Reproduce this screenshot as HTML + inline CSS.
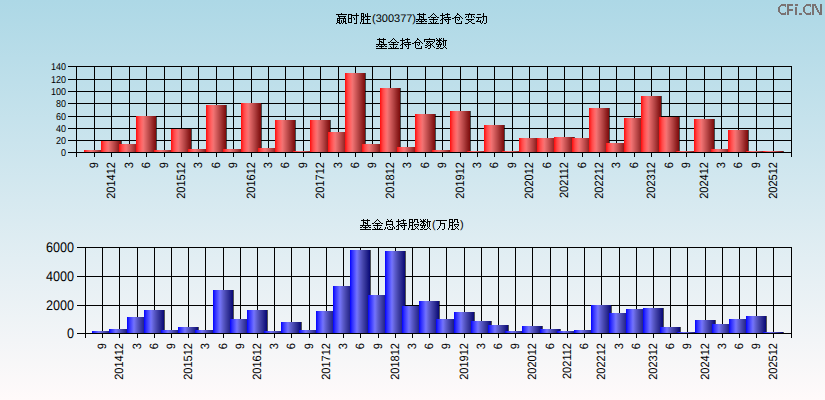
<!DOCTYPE html><html><head><meta charset="utf-8"><style>html,body{margin:0;padding:0;width:825px;height:400px;overflow:hidden}svg{display:block}</style></head><body><svg width="825" height="400" viewBox="0 0 825 400" font-family="'Liberation Sans', sans-serif" text-rendering="geometricPrecision"><defs><linearGradient id="bg" x1="0" y1="0" x2="0" y2="1"><stop offset="0" stop-color="#ADD8E6"/><stop offset="1" stop-color="#FFFAFA"/></linearGradient><linearGradient id="rb" x1="0" y1="0" x2="1" y2="0"><stop offset="0" stop-color="#FF0A0A"/><stop offset="0.05" stop-color="#FF2020"/><stop offset="0.15" stop-color="#FF4848"/><stop offset="0.3" stop-color="#FF6A6A"/><stop offset="0.38" stop-color="#F07272"/><stop offset="0.5" stop-color="#D86060"/><stop offset="0.7" stop-color="#B04040"/><stop offset="0.85" stop-color="#942424"/><stop offset="1" stop-color="#7C0A0A"/></linearGradient><linearGradient id="bb" x1="0" y1="0" x2="1" y2="0"><stop offset="0" stop-color="#0000FF"/><stop offset="0.1" stop-color="#2A2AFF"/><stop offset="0.2" stop-color="#4848FF"/><stop offset="0.32" stop-color="#6C6CFF"/><stop offset="0.38" stop-color="#7070F0"/><stop offset="0.5" stop-color="#5C5CCC"/><stop offset="0.65" stop-color="#4444AA"/><stop offset="0.8" stop-color="#2C2C92"/><stop offset="1" stop-color="#080876"/></linearGradient></defs><rect x="0" y="0" width="825" height="400" fill="url(#bg)"/><path fill="#7A7272" d="M781 4h5v2h-5zM780 5h2v1h-2zM779 6h2v1h-2zM778 7h2v5h-2zM779 12h2v1h-2zM780 13h2v1h-2zM781 13h5v2h-5zM785 6h1v1h-1zM785 12h1v1h-1zM787 4h2v11h-2zM787 4h6v2h-6zM787 9h6v2h-6zM795 4h3v2h-3zM795 7h2v8h-2zM799 13h3v2h-3zM806 4h5v2h-5zM805 5h2v1h-2zM804 6h2v1h-2zM803 7h2v5h-2zM804 12h2v1h-2zM805 13h2v1h-2zM806 13h5v2h-5zM810 6h1v1h-1zM810 12h1v1h-1zM812 4h2v11h-2zM820 4h2v11h-2zM814 4h2v1h-2zM814 5h2v1h-2zM815 6h2v1h-2zM815 7h2v1h-2zM816 8h2v1h-2zM816 9h2v1h-2zM817 10h2v1h-2zM817 11h2v1h-2zM818 12h2v1h-2zM819 13h2v1h-2zM819 14h2v1h-2z"/><path fill="#000" d="M341 13h1v1h-1zM356 13h1v1h-1zM361 13h3v1h-3zM367 13h1v1h-1zM336 14h11v1h-11zM348 14h4v1h-4zM356 14h1v1h-1zM361 14h1v1h-1zM363 14h1v1h-1zM365 14h1v1h-1zM367 14h1v1h-1zM338 15h1v1h-1zM348 15h1v1h-1zM351 15h8v1h-8zM361 15h1v1h-1zM363 15h1v1h-1zM365 15h1v1h-1zM367 15h1v1h-1zM338 16h8v1h-8zM348 16h1v1h-1zM351 16h1v1h-1zM356 16h1v1h-1zM361 16h3v1h-3zM365 16h6v1h-6zM339 17h1v1h-1zM344 17h1v1h-1zM348 17h1v1h-1zM351 17h1v1h-1zM353 17h1v1h-1zM356 17h1v1h-1zM361 17h1v1h-1zM363 17h2v1h-2zM367 17h1v1h-1zM337 18h9v1h-9zM348 18h4v1h-4zM354 18h1v1h-1zM356 18h1v1h-1zM361 18h1v1h-1zM363 18h1v1h-1zM367 18h1v1h-1zM337 19h1v1h-1zM339 19h1v1h-1zM343 19h1v1h-1zM345 19h1v1h-1zM348 19h1v1h-1zM351 19h1v1h-1zM354 19h1v1h-1zM356 19h1v1h-1zM361 19h3v1h-3zM365 19h5v1h-5zM337 20h3v1h-3zM341 20h1v1h-1zM343 20h1v1h-1zM345 20h1v1h-1zM348 20h1v1h-1zM351 20h1v1h-1zM356 20h1v1h-1zM361 20h1v1h-1zM363 20h1v1h-1zM367 20h1v1h-1zM337 21h1v1h-1zM339 21h1v1h-1zM341 21h1v1h-1zM343 21h3v1h-3zM348 21h1v1h-1zM351 21h1v1h-1zM356 21h1v1h-1zM361 21h1v1h-1zM363 21h1v1h-1zM367 21h1v1h-1zM337 22h3v1h-3zM341 22h1v1h-1zM343 22h1v1h-1zM345 22h1v1h-1zM348 22h4v1h-4zM356 22h1v1h-1zM360 22h1v1h-1zM363 22h1v1h-1zM367 22h1v1h-1zM336 23h1v1h-1zM339 23h2v1h-2zM342 23h1v1h-1zM345 23h2v1h-2zM354 23h3v1h-3zM360 23h1v1h-1zM362 23h9v1h-9zM419 13h1v1h-1zM423 13h1v1h-1zM433 13h1v1h-1zM442 13h1v1h-1zM447 13h1v1h-1zM457 13h1v1h-1zM469 13h1v1h-1zM483 13h1v1h-1zM417 14h9v1h-9zM432 14h1v1h-1zM434 14h1v1h-1zM442 14h1v1h-1zM445 14h5v1h-5zM457 14h2v1h-2zM465 14h10v1h-10zM477 14h4v1h-4zM483 14h1v1h-1zM419 15h1v1h-1zM423 15h1v1h-1zM431 15h1v1h-1zM435 15h1v1h-1zM440 15h5v1h-5zM447 15h1v1h-1zM456 15h1v1h-1zM459 15h1v1h-1zM468 15h1v1h-1zM471 15h1v1h-1zM483 15h1v1h-1zM419 16h3v1h-3zM423 16h1v1h-1zM430 16h1v1h-1zM436 16h1v1h-1zM442 16h1v1h-1zM447 16h1v1h-1zM455 16h1v1h-1zM460 16h1v1h-1zM466 16h1v1h-1zM468 16h1v1h-1zM471 16h1v1h-1zM473 16h1v1h-1zM482 16h5v1h-5zM419 17h1v1h-1zM421 17h3v1h-3zM428 17h2v1h-2zM431 17h5v1h-5zM437 17h2v1h-2zM442 17h1v1h-1zM444 17h7v1h-7zM454 17h6v1h-6zM461 17h1v1h-1zM465 17h1v1h-1zM468 17h1v1h-1zM471 17h1v1h-1zM474 17h1v1h-1zM476 17h6v1h-6zM483 17h1v1h-1zM486 17h1v1h-1zM419 18h1v1h-1zM423 18h1v1h-1zM433 18h1v1h-1zM442 18h2v1h-2zM448 18h1v1h-1zM452 18h2v1h-2zM455 18h1v1h-1zM459 18h1v1h-1zM462 18h1v1h-1zM478 18h1v1h-1zM483 18h1v1h-1zM486 18h1v1h-1zM416 19h11v1h-11zM429 19h9v1h-9zM441 19h2v1h-2zM444 19h7v1h-7zM455 19h1v1h-1zM457 19h1v1h-1zM459 19h1v1h-1zM466 19h8v1h-8zM478 19h1v1h-1zM483 19h1v1h-1zM486 19h1v1h-1zM418 20h1v1h-1zM421 20h1v1h-1zM424 20h1v1h-1zM433 20h1v1h-1zM440 20h1v1h-1zM442 20h1v1h-1zM445 20h1v1h-1zM448 20h1v1h-1zM455 20h1v1h-1zM458 20h1v1h-1zM468 20h1v1h-1zM471 20h1v1h-1zM477 20h1v1h-1zM480 20h1v1h-1zM483 20h1v1h-1zM486 20h1v1h-1zM416 21h2v1h-2zM419 21h5v1h-5zM425 21h2v1h-2zM430 21h1v1h-1zM433 21h1v1h-1zM436 21h1v1h-1zM442 21h1v1h-1zM446 21h1v1h-1zM448 21h1v1h-1zM455 21h1v1h-1zM461 21h1v1h-1zM469 21h2v1h-2zM476 21h5v1h-5zM482 21h1v1h-1zM486 21h1v1h-1zM421 22h1v1h-1zM431 22h1v1h-1zM433 22h1v1h-1zM435 22h1v1h-1zM442 22h1v1h-1zM448 22h1v1h-1zM455 22h1v1h-1zM461 22h1v1h-1zM468 22h1v1h-1zM471 22h1v1h-1zM480 22h1v1h-1zM482 22h1v1h-1zM486 22h1v1h-1zM416 23h11v1h-11zM428 23h11v1h-11zM440 23h3v1h-3zM447 23h2v1h-2zM456 23h6v1h-6zM465 23h3v1h-3zM472 23h3v1h-3zM481 23h1v1h-1zM484 23h2v1h-2z"/><text x="372" y="22" font-size="11" fill="#000">(300377)</text><path fill="#000" d="M379 38h1v1h-1zM383 38h1v1h-1zM393 38h1v1h-1zM402 38h1v1h-1zM407 38h1v1h-1zM417 38h1v1h-1zM429 38h1v1h-1zM436 38h1v1h-1zM439 38h1v1h-1zM441 38h1v1h-1zM443 38h1v1h-1zM377 39h9v1h-9zM392 39h1v1h-1zM394 39h1v1h-1zM402 39h1v1h-1zM405 39h5v1h-5zM417 39h2v1h-2zM424 39h11v1h-11zM437 39h1v1h-1zM439 39h2v1h-2zM443 39h1v1h-1zM379 40h1v1h-1zM383 40h1v1h-1zM391 40h1v1h-1zM395 40h1v1h-1zM400 40h5v1h-5zM407 40h1v1h-1zM416 40h1v1h-1zM419 40h1v1h-1zM424 40h1v1h-1zM434 40h1v1h-1zM436 40h6v1h-6zM443 40h4v1h-4zM379 41h3v1h-3zM383 41h1v1h-1zM390 41h1v1h-1zM396 41h1v1h-1zM402 41h1v1h-1zM407 41h1v1h-1zM415 41h1v1h-1zM420 41h1v1h-1zM424 41h1v1h-1zM426 41h7v1h-7zM434 41h1v1h-1zM438 41h2v1h-2zM442 41h2v1h-2zM445 41h1v1h-1zM379 42h1v1h-1zM381 42h3v1h-3zM388 42h2v1h-2zM391 42h5v1h-5zM397 42h2v1h-2zM402 42h1v1h-1zM404 42h7v1h-7zM414 42h6v1h-6zM421 42h1v1h-1zM427 42h1v1h-1zM429 42h1v1h-1zM433 42h1v1h-1zM437 42h1v1h-1zM439 42h2v1h-2zM443 42h1v1h-1zM445 42h1v1h-1zM379 43h1v1h-1zM383 43h1v1h-1zM393 43h1v1h-1zM402 43h2v1h-2zM408 43h1v1h-1zM412 43h2v1h-2zM415 43h1v1h-1zM419 43h1v1h-1zM422 43h1v1h-1zM426 43h1v1h-1zM428 43h1v1h-1zM430 43h1v1h-1zM432 43h1v1h-1zM436 43h1v1h-1zM439 43h1v1h-1zM441 43h1v1h-1zM443 43h1v1h-1zM445 43h1v1h-1zM376 44h11v1h-11zM389 44h9v1h-9zM401 44h2v1h-2zM404 44h7v1h-7zM415 44h1v1h-1zM417 44h1v1h-1zM419 44h1v1h-1zM427 44h1v1h-1zM430 44h2v1h-2zM436 44h6v1h-6zM443 44h1v1h-1zM445 44h1v1h-1zM378 45h1v1h-1zM381 45h1v1h-1zM384 45h1v1h-1zM393 45h1v1h-1zM400 45h1v1h-1zM402 45h1v1h-1zM405 45h1v1h-1zM408 45h1v1h-1zM415 45h1v1h-1zM418 45h1v1h-1zM425 45h2v1h-2zM428 45h3v1h-3zM432 45h1v1h-1zM438 45h1v1h-1zM440 45h1v1h-1zM443 45h1v1h-1zM445 45h1v1h-1zM376 46h2v1h-2zM379 46h5v1h-5zM385 46h2v1h-2zM390 46h1v1h-1zM393 46h1v1h-1zM396 46h1v1h-1zM402 46h1v1h-1zM406 46h1v1h-1zM408 46h1v1h-1zM415 46h1v1h-1zM421 46h1v1h-1zM427 46h1v1h-1zM430 46h1v1h-1zM433 46h1v1h-1zM437 46h2v1h-2zM440 46h1v1h-1zM444 46h1v1h-1zM381 47h1v1h-1zM391 47h1v1h-1zM393 47h1v1h-1zM395 47h1v1h-1zM402 47h1v1h-1zM408 47h1v1h-1zM415 47h1v1h-1zM421 47h1v1h-1zM425 47h2v1h-2zM430 47h1v1h-1zM434 47h1v1h-1zM439 47h1v1h-1zM443 47h1v1h-1zM445 47h1v1h-1zM376 48h11v1h-11zM388 48h11v1h-11zM400 48h3v1h-3zM407 48h2v1h-2zM416 48h6v1h-6zM428 48h2v1h-2zM436 48h3v1h-3zM440 48h3v1h-3zM446 48h1v1h-1z"/><path fill="#000" d="M363 219h1v1h-1zM367 219h1v1h-1zM377 219h1v1h-1zM387 219h1v1h-1zM391 219h1v1h-1zM398 219h1v1h-1zM403 219h1v1h-1zM409 219h4v1h-4zM414 219h4v1h-4zM420 219h1v1h-1zM423 219h1v1h-1zM425 219h1v1h-1zM427 219h1v1h-1zM361 220h9v1h-9zM376 220h1v1h-1zM378 220h1v1h-1zM388 220h1v1h-1zM390 220h1v1h-1zM398 220h1v1h-1zM401 220h5v1h-5zM409 220h1v1h-1zM412 220h1v1h-1zM414 220h1v1h-1zM417 220h1v1h-1zM421 220h1v1h-1zM423 220h2v1h-2zM427 220h1v1h-1zM363 221h1v1h-1zM367 221h1v1h-1zM375 221h1v1h-1zM379 221h1v1h-1zM386 221h7v1h-7zM396 221h5v1h-5zM403 221h1v1h-1zM409 221h1v1h-1zM412 221h1v1h-1zM414 221h1v1h-1zM417 221h1v1h-1zM420 221h6v1h-6zM427 221h4v1h-4zM363 222h3v1h-3zM367 222h1v1h-1zM374 222h1v1h-1zM380 222h1v1h-1zM386 222h1v1h-1zM392 222h1v1h-1zM398 222h1v1h-1zM403 222h1v1h-1zM409 222h5v1h-5zM417 222h2v1h-2zM422 222h2v1h-2zM426 222h2v1h-2zM429 222h1v1h-1zM363 223h1v1h-1zM365 223h3v1h-3zM372 223h2v1h-2zM375 223h5v1h-5zM381 223h2v1h-2zM386 223h1v1h-1zM392 223h1v1h-1zM398 223h1v1h-1zM400 223h7v1h-7zM409 223h1v1h-1zM412 223h1v1h-1zM421 223h1v1h-1zM423 223h2v1h-2zM427 223h1v1h-1zM429 223h1v1h-1zM363 224h1v1h-1zM367 224h1v1h-1zM377 224h1v1h-1zM386 224h7v1h-7zM398 224h2v1h-2zM404 224h1v1h-1zM409 224h1v1h-1zM412 224h1v1h-1zM414 224h5v1h-5zM420 224h1v1h-1zM423 224h1v1h-1zM425 224h1v1h-1zM427 224h1v1h-1zM429 224h1v1h-1zM360 225h11v1h-11zM373 225h9v1h-9zM386 225h1v1h-1zM392 225h1v1h-1zM397 225h2v1h-2zM400 225h7v1h-7zM409 225h4v1h-4zM414 225h1v1h-1zM418 225h1v1h-1zM420 225h6v1h-6zM427 225h1v1h-1zM429 225h1v1h-1zM362 226h1v1h-1zM365 226h1v1h-1zM368 226h1v1h-1zM377 226h1v1h-1zM389 226h1v1h-1zM393 226h1v1h-1zM396 226h1v1h-1zM398 226h1v1h-1zM401 226h1v1h-1zM404 226h1v1h-1zM409 226h1v1h-1zM412 226h1v1h-1zM415 226h1v1h-1zM417 226h1v1h-1zM422 226h1v1h-1zM424 226h1v1h-1zM427 226h1v1h-1zM429 226h1v1h-1zM360 227h2v1h-2zM363 227h5v1h-5zM369 227h2v1h-2zM374 227h1v1h-1zM377 227h1v1h-1zM380 227h1v1h-1zM385 227h1v1h-1zM387 227h1v1h-1zM390 227h1v1h-1zM392 227h1v1h-1zM394 227h1v1h-1zM398 227h1v1h-1zM402 227h1v1h-1zM404 227h1v1h-1zM409 227h1v1h-1zM412 227h1v1h-1zM416 227h1v1h-1zM421 227h2v1h-2zM424 227h1v1h-1zM428 227h1v1h-1zM365 228h1v1h-1zM375 228h1v1h-1zM377 228h1v1h-1zM379 228h1v1h-1zM385 228h1v1h-1zM387 228h1v1h-1zM392 228h1v1h-1zM394 228h1v1h-1zM398 228h1v1h-1zM404 228h1v1h-1zM408 228h1v1h-1zM412 228h1v1h-1zM415 228h1v1h-1zM417 228h1v1h-1zM423 228h1v1h-1zM427 228h1v1h-1zM429 228h1v1h-1zM360 229h11v1h-11zM372 229h11v1h-11zM384 229h1v1h-1zM388 229h5v1h-5zM396 229h3v1h-3zM403 229h2v1h-2zM408 229h1v1h-1zM411 229h4v1h-4zM418 229h1v1h-1zM420 229h3v1h-3zM424 229h3v1h-3zM430 229h1v1h-1zM449 219h4v1h-4zM454 219h4v1h-4zM436 220h11v1h-11zM449 220h1v1h-1zM452 220h1v1h-1zM454 220h1v1h-1zM457 220h1v1h-1zM440 221h1v1h-1zM449 221h1v1h-1zM452 221h1v1h-1zM454 221h1v1h-1zM457 221h1v1h-1zM440 222h1v1h-1zM449 222h5v1h-5zM457 222h2v1h-2zM440 223h5v1h-5zM449 223h1v1h-1zM452 223h1v1h-1zM440 224h1v1h-1zM444 224h1v1h-1zM449 224h1v1h-1zM452 224h1v1h-1zM454 224h5v1h-5zM440 225h1v1h-1zM444 225h1v1h-1zM449 225h4v1h-4zM454 225h1v1h-1zM458 225h1v1h-1zM439 226h1v1h-1zM444 226h1v1h-1zM449 226h1v1h-1zM452 226h1v1h-1zM455 226h1v1h-1zM457 226h1v1h-1zM439 227h1v1h-1zM444 227h1v1h-1zM449 227h1v1h-1zM452 227h1v1h-1zM456 227h1v1h-1zM438 228h1v1h-1zM444 228h1v1h-1zM448 228h1v1h-1zM452 228h1v1h-1zM455 228h1v1h-1zM457 228h1v1h-1zM437 229h1v1h-1zM442 229h2v1h-2zM448 229h1v1h-1zM451 229h4v1h-4zM458 229h1v1h-1z"/><text x="432" y="228" font-size="11" fill="#000">(</text><text x="460" y="228" font-size="11" fill="#000">)</text><path fill="#000" d="M68 66h724v1h-724zM68 79h724v1h-724zM68 91h724v1h-724zM68 103h724v1h-724zM68 116h724v1h-724zM68 128h724v1h-724zM68 140h724v1h-724zM68 152h724v1h-724zM76 66h1v91h-1zM791 66h1v91h-1zM94 66h1v91h-1zM111 66h1v91h-1zM129 66h1v91h-1zM146 66h1v91h-1zM164 66h1v91h-1zM181 66h1v91h-1zM198 66h1v91h-1zM216 66h1v91h-1zM233 66h1v91h-1zM251 66h1v91h-1zM268 66h1v91h-1zM285 66h1v91h-1zM303 66h1v91h-1zM320 66h1v91h-1zM338 66h1v91h-1zM355 66h1v91h-1zM372 66h1v91h-1zM390 66h1v91h-1zM407 66h1v91h-1zM425 66h1v91h-1zM442 66h1v91h-1zM460 66h1v91h-1zM477 66h1v91h-1zM494 66h1v91h-1zM512 66h1v91h-1zM529 66h1v91h-1zM547 66h1v91h-1zM564 66h1v91h-1zM582 66h1v91h-1zM599 66h1v91h-1zM616 66h1v91h-1zM634 66h1v91h-1zM651 66h1v91h-1zM669 66h1v91h-1zM686 66h1v91h-1zM704 66h1v91h-1zM721 66h1v91h-1zM738 66h1v91h-1zM756 66h1v91h-1zM773 66h1v91h-1z"/><rect x="84" y="150" width="20" height="2" fill="url(#rb)"/><rect x="104" y="150" width="1" height="2" fill="#000" fill-opacity="0.65"/><rect x="101" y="141" width="20" height="11" fill="url(#rb)"/><rect x="121" y="141" width="1" height="11" fill="#000" fill-opacity="0.65"/><rect x="119" y="144" width="20" height="8" fill="url(#rb)"/><rect x="139" y="144" width="1" height="8" fill="#000" fill-opacity="0.65"/><rect x="136" y="116" width="20" height="36" fill="url(#rb)"/><rect x="156" y="116" width="1" height="36" fill="#000" fill-opacity="0.65"/><rect x="154" y="150" width="20" height="2" fill="url(#rb)"/><rect x="174" y="150" width="1" height="2" fill="#000" fill-opacity="0.65"/><rect x="171" y="129" width="20" height="23" fill="url(#rb)"/><rect x="191" y="129" width="1" height="23" fill="#000" fill-opacity="0.65"/><rect x="188" y="149" width="20" height="3" fill="url(#rb)"/><rect x="208" y="149" width="1" height="3" fill="#000" fill-opacity="0.65"/><rect x="206" y="105" width="20" height="47" fill="url(#rb)"/><rect x="226" y="105" width="1" height="47" fill="#000" fill-opacity="0.65"/><rect x="223" y="149" width="20" height="3" fill="url(#rb)"/><rect x="243" y="149" width="1" height="3" fill="#000" fill-opacity="0.65"/><rect x="241" y="103" width="20" height="49" fill="url(#rb)"/><rect x="261" y="103" width="1" height="49" fill="#000" fill-opacity="0.65"/><rect x="258" y="148" width="20" height="4" fill="url(#rb)"/><rect x="278" y="148" width="1" height="4" fill="#000" fill-opacity="0.65"/><rect x="275" y="120" width="20" height="32" fill="url(#rb)"/><rect x="295" y="120" width="1" height="32" fill="#000" fill-opacity="0.65"/><rect x="293" y="151" width="20" height="1" fill="url(#rb)"/><rect x="313" y="151" width="1" height="1" fill="#000" fill-opacity="0.65"/><rect x="310" y="120" width="20" height="32" fill="url(#rb)"/><rect x="330" y="120" width="1" height="32" fill="#000" fill-opacity="0.65"/><rect x="328" y="132" width="20" height="20" fill="url(#rb)"/><rect x="348" y="132" width="1" height="20" fill="#000" fill-opacity="0.65"/><rect x="345" y="73" width="20" height="79" fill="url(#rb)"/><rect x="365" y="73" width="1" height="79" fill="#000" fill-opacity="0.65"/><rect x="362" y="144" width="20" height="8" fill="url(#rb)"/><rect x="382" y="144" width="1" height="8" fill="#000" fill-opacity="0.65"/><rect x="380" y="88" width="20" height="64" fill="url(#rb)"/><rect x="400" y="88" width="1" height="64" fill="#000" fill-opacity="0.65"/><rect x="397" y="147" width="20" height="5" fill="url(#rb)"/><rect x="417" y="147" width="1" height="5" fill="#000" fill-opacity="0.65"/><rect x="415" y="114" width="20" height="38" fill="url(#rb)"/><rect x="435" y="114" width="1" height="38" fill="#000" fill-opacity="0.65"/><rect x="432" y="150" width="20" height="2" fill="url(#rb)"/><rect x="452" y="150" width="1" height="2" fill="#000" fill-opacity="0.65"/><rect x="450" y="111" width="20" height="41" fill="url(#rb)"/><rect x="470" y="111" width="1" height="41" fill="#000" fill-opacity="0.65"/><rect x="467" y="151" width="20" height="1" fill="url(#rb)"/><rect x="487" y="151" width="1" height="1" fill="#000" fill-opacity="0.65"/><rect x="484" y="125" width="20" height="27" fill="url(#rb)"/><rect x="504" y="125" width="1" height="27" fill="#000" fill-opacity="0.65"/><rect x="502" y="151" width="20" height="1" fill="url(#rb)"/><rect x="522" y="151" width="1" height="1" fill="#000" fill-opacity="0.65"/><rect x="519" y="138" width="20" height="14" fill="url(#rb)"/><rect x="539" y="138" width="1" height="14" fill="#000" fill-opacity="0.65"/><rect x="537" y="138" width="20" height="14" fill="url(#rb)"/><rect x="557" y="138" width="1" height="14" fill="#000" fill-opacity="0.65"/><rect x="554" y="137" width="20" height="15" fill="url(#rb)"/><rect x="574" y="137" width="1" height="15" fill="#000" fill-opacity="0.65"/><rect x="572" y="138" width="20" height="14" fill="url(#rb)"/><rect x="592" y="138" width="1" height="14" fill="#000" fill-opacity="0.65"/><rect x="589" y="108" width="20" height="44" fill="url(#rb)"/><rect x="609" y="108" width="1" height="44" fill="#000" fill-opacity="0.65"/><rect x="606" y="143" width="20" height="9" fill="url(#rb)"/><rect x="626" y="143" width="1" height="9" fill="#000" fill-opacity="0.65"/><rect x="624" y="118" width="20" height="34" fill="url(#rb)"/><rect x="644" y="118" width="1" height="34" fill="#000" fill-opacity="0.65"/><rect x="641" y="96" width="20" height="56" fill="url(#rb)"/><rect x="661" y="96" width="1" height="56" fill="#000" fill-opacity="0.65"/><rect x="659" y="117" width="20" height="35" fill="url(#rb)"/><rect x="679" y="117" width="1" height="35" fill="#000" fill-opacity="0.65"/><rect x="676" y="151" width="20" height="1" fill="url(#rb)"/><rect x="696" y="151" width="1" height="1" fill="#000" fill-opacity="0.65"/><rect x="694" y="119" width="20" height="33" fill="url(#rb)"/><rect x="714" y="119" width="1" height="33" fill="#000" fill-opacity="0.65"/><rect x="711" y="149" width="20" height="3" fill="url(#rb)"/><rect x="731" y="149" width="1" height="3" fill="#000" fill-opacity="0.65"/><rect x="728" y="130" width="20" height="22" fill="url(#rb)"/><rect x="748" y="130" width="1" height="22" fill="#000" fill-opacity="0.65"/><rect x="746" y="151" width="20" height="1" fill="url(#rb)"/><rect x="766" y="151" width="1" height="1" fill="#000" fill-opacity="0.65"/><rect x="763" y="151" width="20" height="1" fill="url(#rb)"/><rect x="783" y="151" width="1" height="1" fill="#000" fill-opacity="0.65"/><rect x="68" y="152" width="724" height="1" fill="#000"/><text transform="translate(66,66) scale(0.9,1)" dy="0.35em" font-size="10" text-anchor="end" fill="#000">140</text><text transform="translate(66,79) scale(0.9,1)" dy="0.35em" font-size="10" text-anchor="end" fill="#000">120</text><text transform="translate(66,91) scale(0.9,1)" dy="0.35em" font-size="10" text-anchor="end" fill="#000">100</text><text transform="translate(66,103) scale(0.9,1)" dy="0.35em" font-size="10" text-anchor="end" fill="#000">80</text><text transform="translate(66,116) scale(0.9,1)" dy="0.35em" font-size="10" text-anchor="end" fill="#000">60</text><text transform="translate(66,128) scale(0.9,1)" dy="0.35em" font-size="10" text-anchor="end" fill="#000">40</text><text transform="translate(66,140) scale(0.9,1)" dy="0.35em" font-size="10" text-anchor="end" fill="#000">20</text><text transform="translate(66,152) scale(0.9,1)" dy="0.35em" font-size="10" text-anchor="end" fill="#000">0</text><text transform="translate(97.5,162) rotate(-90) scale(0.92,1)" font-size="12" text-anchor="end" fill="#000">9</text><text transform="translate(114.5,162) rotate(-90) scale(0.92,1)" font-size="12" text-anchor="end" fill="#000">201412</text><text transform="translate(132.5,162) rotate(-90) scale(0.92,1)" font-size="12" text-anchor="end" fill="#000">3</text><text transform="translate(149.5,162) rotate(-90) scale(0.92,1)" font-size="12" text-anchor="end" fill="#000">6</text><text transform="translate(167.5,162) rotate(-90) scale(0.92,1)" font-size="12" text-anchor="end" fill="#000">9</text><text transform="translate(184.5,162) rotate(-90) scale(0.92,1)" font-size="12" text-anchor="end" fill="#000">201512</text><text transform="translate(201.5,162) rotate(-90) scale(0.92,1)" font-size="12" text-anchor="end" fill="#000">3</text><text transform="translate(219.5,162) rotate(-90) scale(0.92,1)" font-size="12" text-anchor="end" fill="#000">6</text><text transform="translate(236.5,162) rotate(-90) scale(0.92,1)" font-size="12" text-anchor="end" fill="#000">9</text><text transform="translate(254.5,162) rotate(-90) scale(0.92,1)" font-size="12" text-anchor="end" fill="#000">201612</text><text transform="translate(271.5,162) rotate(-90) scale(0.92,1)" font-size="12" text-anchor="end" fill="#000">3</text><text transform="translate(288.5,162) rotate(-90) scale(0.92,1)" font-size="12" text-anchor="end" fill="#000">6</text><text transform="translate(306.5,162) rotate(-90) scale(0.92,1)" font-size="12" text-anchor="end" fill="#000">9</text><text transform="translate(323.5,162) rotate(-90) scale(0.92,1)" font-size="12" text-anchor="end" fill="#000">201712</text><text transform="translate(341.5,162) rotate(-90) scale(0.92,1)" font-size="12" text-anchor="end" fill="#000">3</text><text transform="translate(358.5,162) rotate(-90) scale(0.92,1)" font-size="12" text-anchor="end" fill="#000">6</text><text transform="translate(375.5,162) rotate(-90) scale(0.92,1)" font-size="12" text-anchor="end" fill="#000">9</text><text transform="translate(393.5,162) rotate(-90) scale(0.92,1)" font-size="12" text-anchor="end" fill="#000">201812</text><text transform="translate(410.5,162) rotate(-90) scale(0.92,1)" font-size="12" text-anchor="end" fill="#000">3</text><text transform="translate(428.5,162) rotate(-90) scale(0.92,1)" font-size="12" text-anchor="end" fill="#000">6</text><text transform="translate(445.5,162) rotate(-90) scale(0.92,1)" font-size="12" text-anchor="end" fill="#000">9</text><text transform="translate(463.5,162) rotate(-90) scale(0.92,1)" font-size="12" text-anchor="end" fill="#000">201912</text><text transform="translate(480.5,162) rotate(-90) scale(0.92,1)" font-size="12" text-anchor="end" fill="#000">3</text><text transform="translate(497.5,162) rotate(-90) scale(0.92,1)" font-size="12" text-anchor="end" fill="#000">6</text><text transform="translate(515.5,162) rotate(-90) scale(0.92,1)" font-size="12" text-anchor="end" fill="#000">9</text><text transform="translate(532.5,162) rotate(-90) scale(0.92,1)" font-size="12" text-anchor="end" fill="#000">202012</text><text transform="translate(550.5,162) rotate(-90) scale(0.92,1)" font-size="12" text-anchor="end" fill="#000">6</text><text transform="translate(567.5,162) rotate(-90) scale(0.92,1)" font-size="12" text-anchor="end" fill="#000">202112</text><text transform="translate(585.5,162) rotate(-90) scale(0.92,1)" font-size="12" text-anchor="end" fill="#000">6</text><text transform="translate(602.5,162) rotate(-90) scale(0.92,1)" font-size="12" text-anchor="end" fill="#000">202212</text><text transform="translate(619.5,162) rotate(-90) scale(0.92,1)" font-size="12" text-anchor="end" fill="#000">3</text><text transform="translate(637.5,162) rotate(-90) scale(0.92,1)" font-size="12" text-anchor="end" fill="#000">6</text><text transform="translate(654.5,162) rotate(-90) scale(0.92,1)" font-size="12" text-anchor="end" fill="#000">202312</text><text transform="translate(672.5,162) rotate(-90) scale(0.92,1)" font-size="12" text-anchor="end" fill="#000">6</text><text transform="translate(689.5,162) rotate(-90) scale(0.92,1)" font-size="12" text-anchor="end" fill="#000">9</text><text transform="translate(707.5,162) rotate(-90) scale(0.92,1)" font-size="12" text-anchor="end" fill="#000">202412</text><text transform="translate(724.5,162) rotate(-90) scale(0.92,1)" font-size="12" text-anchor="end" fill="#000">3</text><text transform="translate(741.5,162) rotate(-90) scale(0.92,1)" font-size="12" text-anchor="end" fill="#000">6</text><text transform="translate(759.5,162) rotate(-90) scale(0.92,1)" font-size="12" text-anchor="end" fill="#000">9</text><text transform="translate(776.5,162) rotate(-90) scale(0.92,1)" font-size="12" text-anchor="end" fill="#000">202512</text><path fill="#000" d="M77 247h715v1h-715zM77 276h715v1h-715zM77 305h715v1h-715zM77 333h715v1h-715zM85 247h1v91h-1zM791 247h1v91h-1zM102 247h1v91h-1zM119 247h1v91h-1zM137 247h1v91h-1zM154 247h1v91h-1zM171 247h1v91h-1zM188 247h1v91h-1zM205 247h1v91h-1zM223 247h1v91h-1zM240 247h1v91h-1zM257 247h1v91h-1zM274 247h1v91h-1zM291 247h1v91h-1zM309 247h1v91h-1zM326 247h1v91h-1zM343 247h1v91h-1zM360 247h1v91h-1zM378 247h1v91h-1zM395 247h1v91h-1zM412 247h1v91h-1zM429 247h1v91h-1zM446 247h1v91h-1zM464 247h1v91h-1zM481 247h1v91h-1zM498 247h1v91h-1zM515 247h1v91h-1zM532 247h1v91h-1zM550 247h1v91h-1zM567 247h1v91h-1zM584 247h1v91h-1zM601 247h1v91h-1zM619 247h1v91h-1zM636 247h1v91h-1zM653 247h1v91h-1zM670 247h1v91h-1zM687 247h1v91h-1zM705 247h1v91h-1zM722 247h1v91h-1zM739 247h1v91h-1zM756 247h1v91h-1zM773 247h1v91h-1z"/><rect x="92" y="331" width="20" height="2" fill="url(#bb)"/><rect x="112" y="331" width="1" height="2" fill="#000" fill-opacity="0.65"/><rect x="109" y="329" width="20" height="4" fill="url(#bb)"/><rect x="129" y="329" width="1" height="4" fill="#000" fill-opacity="0.65"/><rect x="127" y="317" width="20" height="16" fill="url(#bb)"/><rect x="147" y="317" width="1" height="16" fill="#000" fill-opacity="0.65"/><rect x="144" y="310" width="20" height="23" fill="url(#bb)"/><rect x="164" y="310" width="1" height="23" fill="#000" fill-opacity="0.65"/><rect x="161" y="330" width="20" height="3" fill="url(#bb)"/><rect x="181" y="330" width="1" height="3" fill="#000" fill-opacity="0.65"/><rect x="178" y="327" width="20" height="6" fill="url(#bb)"/><rect x="198" y="327" width="1" height="6" fill="#000" fill-opacity="0.65"/><rect x="195" y="330" width="20" height="3" fill="url(#bb)"/><rect x="215" y="330" width="1" height="3" fill="#000" fill-opacity="0.65"/><rect x="213" y="290" width="20" height="43" fill="url(#bb)"/><rect x="233" y="290" width="1" height="43" fill="#000" fill-opacity="0.65"/><rect x="230" y="319" width="20" height="14" fill="url(#bb)"/><rect x="250" y="319" width="1" height="14" fill="#000" fill-opacity="0.65"/><rect x="247" y="310" width="20" height="23" fill="url(#bb)"/><rect x="267" y="310" width="1" height="23" fill="#000" fill-opacity="0.65"/><rect x="264" y="331" width="20" height="2" fill="url(#bb)"/><rect x="284" y="331" width="1" height="2" fill="#000" fill-opacity="0.65"/><rect x="281" y="322" width="20" height="11" fill="url(#bb)"/><rect x="301" y="322" width="1" height="11" fill="#000" fill-opacity="0.65"/><rect x="299" y="330" width="20" height="3" fill="url(#bb)"/><rect x="319" y="330" width="1" height="3" fill="#000" fill-opacity="0.65"/><rect x="316" y="311" width="20" height="22" fill="url(#bb)"/><rect x="336" y="311" width="1" height="22" fill="#000" fill-opacity="0.65"/><rect x="333" y="286" width="20" height="47" fill="url(#bb)"/><rect x="353" y="286" width="1" height="47" fill="#000" fill-opacity="0.65"/><rect x="350" y="250" width="20" height="83" fill="url(#bb)"/><rect x="370" y="250" width="1" height="83" fill="#000" fill-opacity="0.65"/><rect x="368" y="295" width="20" height="38" fill="url(#bb)"/><rect x="388" y="295" width="1" height="38" fill="#000" fill-opacity="0.65"/><rect x="385" y="251" width="20" height="82" fill="url(#bb)"/><rect x="405" y="251" width="1" height="82" fill="#000" fill-opacity="0.65"/><rect x="402" y="306" width="20" height="27" fill="url(#bb)"/><rect x="422" y="306" width="1" height="27" fill="#000" fill-opacity="0.65"/><rect x="419" y="301" width="20" height="32" fill="url(#bb)"/><rect x="439" y="301" width="1" height="32" fill="#000" fill-opacity="0.65"/><rect x="436" y="319" width="20" height="14" fill="url(#bb)"/><rect x="456" y="319" width="1" height="14" fill="#000" fill-opacity="0.65"/><rect x="454" y="312" width="20" height="21" fill="url(#bb)"/><rect x="474" y="312" width="1" height="21" fill="#000" fill-opacity="0.65"/><rect x="471" y="321" width="20" height="12" fill="url(#bb)"/><rect x="491" y="321" width="1" height="12" fill="#000" fill-opacity="0.65"/><rect x="488" y="325" width="20" height="8" fill="url(#bb)"/><rect x="508" y="325" width="1" height="8" fill="#000" fill-opacity="0.65"/><rect x="505" y="331" width="20" height="2" fill="url(#bb)"/><rect x="525" y="331" width="1" height="2" fill="#000" fill-opacity="0.65"/><rect x="522" y="326" width="20" height="7" fill="url(#bb)"/><rect x="542" y="326" width="1" height="7" fill="#000" fill-opacity="0.65"/><rect x="540" y="329" width="20" height="4" fill="url(#bb)"/><rect x="560" y="329" width="1" height="4" fill="#000" fill-opacity="0.65"/><rect x="557" y="331" width="20" height="2" fill="url(#bb)"/><rect x="577" y="331" width="1" height="2" fill="#000" fill-opacity="0.65"/><rect x="574" y="330" width="20" height="3" fill="url(#bb)"/><rect x="594" y="330" width="1" height="3" fill="#000" fill-opacity="0.65"/><rect x="591" y="305" width="20" height="28" fill="url(#bb)"/><rect x="611" y="305" width="1" height="28" fill="#000" fill-opacity="0.65"/><rect x="609" y="313" width="20" height="20" fill="url(#bb)"/><rect x="629" y="313" width="1" height="20" fill="#000" fill-opacity="0.65"/><rect x="626" y="309" width="20" height="24" fill="url(#bb)"/><rect x="646" y="309" width="1" height="24" fill="#000" fill-opacity="0.65"/><rect x="643" y="308" width="20" height="25" fill="url(#bb)"/><rect x="663" y="308" width="1" height="25" fill="#000" fill-opacity="0.65"/><rect x="660" y="327" width="20" height="6" fill="url(#bb)"/><rect x="680" y="327" width="1" height="6" fill="#000" fill-opacity="0.65"/><rect x="677" y="332" width="20" height="1" fill="url(#bb)"/><rect x="697" y="332" width="1" height="1" fill="#000" fill-opacity="0.65"/><rect x="695" y="320" width="20" height="13" fill="url(#bb)"/><rect x="715" y="320" width="1" height="13" fill="#000" fill-opacity="0.65"/><rect x="712" y="324" width="20" height="9" fill="url(#bb)"/><rect x="732" y="324" width="1" height="9" fill="#000" fill-opacity="0.65"/><rect x="729" y="319" width="20" height="14" fill="url(#bb)"/><rect x="749" y="319" width="1" height="14" fill="#000" fill-opacity="0.65"/><rect x="746" y="316" width="20" height="17" fill="url(#bb)"/><rect x="766" y="316" width="1" height="17" fill="#000" fill-opacity="0.65"/><rect x="763" y="332" width="20" height="1" fill="url(#bb)"/><rect x="783" y="332" width="1" height="1" fill="#000" fill-opacity="0.65"/><rect x="77" y="333" width="715" height="1" fill="#000"/><text transform="translate(74,247) scale(0.9,1)" dy="0.35em" font-size="14" text-anchor="end" fill="#000">6000</text><text transform="translate(74,276) scale(0.9,1)" dy="0.35em" font-size="14" text-anchor="end" fill="#000">4000</text><text transform="translate(74,305) scale(0.9,1)" dy="0.35em" font-size="14" text-anchor="end" fill="#000">2000</text><text transform="translate(74,333) scale(0.9,1)" dy="0.35em" font-size="14" text-anchor="end" fill="#000">0</text><text transform="translate(105.5,343) rotate(-90) scale(0.92,1)" font-size="12" text-anchor="end" fill="#000">9</text><text transform="translate(122.5,343) rotate(-90) scale(0.92,1)" font-size="12" text-anchor="end" fill="#000">201412</text><text transform="translate(140.5,343) rotate(-90) scale(0.92,1)" font-size="12" text-anchor="end" fill="#000">3</text><text transform="translate(157.5,343) rotate(-90) scale(0.92,1)" font-size="12" text-anchor="end" fill="#000">6</text><text transform="translate(174.5,343) rotate(-90) scale(0.92,1)" font-size="12" text-anchor="end" fill="#000">9</text><text transform="translate(191.5,343) rotate(-90) scale(0.92,1)" font-size="12" text-anchor="end" fill="#000">201512</text><text transform="translate(208.5,343) rotate(-90) scale(0.92,1)" font-size="12" text-anchor="end" fill="#000">3</text><text transform="translate(226.5,343) rotate(-90) scale(0.92,1)" font-size="12" text-anchor="end" fill="#000">6</text><text transform="translate(243.5,343) rotate(-90) scale(0.92,1)" font-size="12" text-anchor="end" fill="#000">9</text><text transform="translate(260.5,343) rotate(-90) scale(0.92,1)" font-size="12" text-anchor="end" fill="#000">201612</text><text transform="translate(277.5,343) rotate(-90) scale(0.92,1)" font-size="12" text-anchor="end" fill="#000">3</text><text transform="translate(294.5,343) rotate(-90) scale(0.92,1)" font-size="12" text-anchor="end" fill="#000">6</text><text transform="translate(312.5,343) rotate(-90) scale(0.92,1)" font-size="12" text-anchor="end" fill="#000">9</text><text transform="translate(329.5,343) rotate(-90) scale(0.92,1)" font-size="12" text-anchor="end" fill="#000">201712</text><text transform="translate(346.5,343) rotate(-90) scale(0.92,1)" font-size="12" text-anchor="end" fill="#000">3</text><text transform="translate(363.5,343) rotate(-90) scale(0.92,1)" font-size="12" text-anchor="end" fill="#000">6</text><text transform="translate(381.5,343) rotate(-90) scale(0.92,1)" font-size="12" text-anchor="end" fill="#000">9</text><text transform="translate(398.5,343) rotate(-90) scale(0.92,1)" font-size="12" text-anchor="end" fill="#000">201812</text><text transform="translate(415.5,343) rotate(-90) scale(0.92,1)" font-size="12" text-anchor="end" fill="#000">3</text><text transform="translate(432.5,343) rotate(-90) scale(0.92,1)" font-size="12" text-anchor="end" fill="#000">6</text><text transform="translate(449.5,343) rotate(-90) scale(0.92,1)" font-size="12" text-anchor="end" fill="#000">9</text><text transform="translate(467.5,343) rotate(-90) scale(0.92,1)" font-size="12" text-anchor="end" fill="#000">201912</text><text transform="translate(484.5,343) rotate(-90) scale(0.92,1)" font-size="12" text-anchor="end" fill="#000">3</text><text transform="translate(501.5,343) rotate(-90) scale(0.92,1)" font-size="12" text-anchor="end" fill="#000">6</text><text transform="translate(518.5,343) rotate(-90) scale(0.92,1)" font-size="12" text-anchor="end" fill="#000">9</text><text transform="translate(535.5,343) rotate(-90) scale(0.92,1)" font-size="12" text-anchor="end" fill="#000">202012</text><text transform="translate(553.5,343) rotate(-90) scale(0.92,1)" font-size="12" text-anchor="end" fill="#000">6</text><text transform="translate(570.5,343) rotate(-90) scale(0.92,1)" font-size="12" text-anchor="end" fill="#000">202112</text><text transform="translate(587.5,343) rotate(-90) scale(0.92,1)" font-size="12" text-anchor="end" fill="#000">6</text><text transform="translate(604.5,343) rotate(-90) scale(0.92,1)" font-size="12" text-anchor="end" fill="#000">202212</text><text transform="translate(622.5,343) rotate(-90) scale(0.92,1)" font-size="12" text-anchor="end" fill="#000">3</text><text transform="translate(639.5,343) rotate(-90) scale(0.92,1)" font-size="12" text-anchor="end" fill="#000">6</text><text transform="translate(656.5,343) rotate(-90) scale(0.92,1)" font-size="12" text-anchor="end" fill="#000">202312</text><text transform="translate(673.5,343) rotate(-90) scale(0.92,1)" font-size="12" text-anchor="end" fill="#000">6</text><text transform="translate(690.5,343) rotate(-90) scale(0.92,1)" font-size="12" text-anchor="end" fill="#000">9</text><text transform="translate(708.5,343) rotate(-90) scale(0.92,1)" font-size="12" text-anchor="end" fill="#000">202412</text><text transform="translate(725.5,343) rotate(-90) scale(0.92,1)" font-size="12" text-anchor="end" fill="#000">3</text><text transform="translate(742.5,343) rotate(-90) scale(0.92,1)" font-size="12" text-anchor="end" fill="#000">6</text><text transform="translate(759.5,343) rotate(-90) scale(0.92,1)" font-size="12" text-anchor="end" fill="#000">9</text><text transform="translate(776.5,343) rotate(-90) scale(0.92,1)" font-size="12" text-anchor="end" fill="#000">202512</text></svg></body></html>
